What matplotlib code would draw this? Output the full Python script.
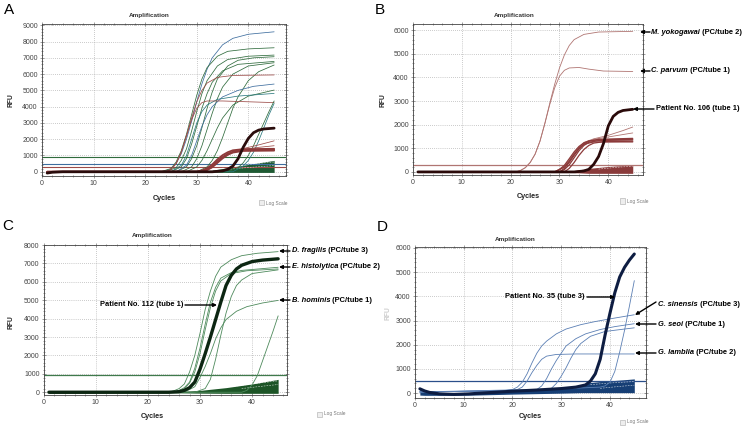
import matplotlib.pyplot as plt
from matplotlib.patches import FancyArrowPatch, Rectangle
from matplotlib.ticker import MultipleLocator

plt.rcParams['font.family'] = ['Liberation Sans', 'DejaVu Sans']

W, H = 745, 429

# ---------------- panel A : all runs overlaid ----------------
A_GREEN, A_BLUE, A_TEAL, A_RED = '#2f6b3c', '#3d6d9e', '#2b7a80', '#9c4a47'
A_CURVES = [
    (A_BLUE, [(1, 0), (23, 0), (25, 150), (26, 500), (27, 1100), (28, 2000), (29, 3100), (30, 4300),
              (31, 5400), (32, 6300), (33, 7000), (35, 7800), (37, 8200), (40, 8450), (45, 8600)]),
    (A_GREEN, [(1, 0), (23, 0), (25, 200), (26, 600), (27, 1300), (28, 2300), (29, 3500), (30, 4700),
               (31, 5700), (32, 6400), (34, 7100), (36, 7400), (40, 7550), (45, 7620)]),
    (A_GREEN, [(1, 0), (24, 0), (26, 250), (27, 700), (28, 1400), (29, 2500), (30, 3700), (31, 4800),
               (32, 5600), (34, 6500), (36, 6900), (40, 7100), (45, 7170)]),
    (A_GREEN, [(1, 0), (26, 0), (28, 300), (29, 800), (30, 1600), (31, 2700), (32, 3900), (33, 4900),
               (34, 5700), (36, 6500), (38, 6850), (41, 7000), (45, 7070)]),
    (A_GREEN, [(1, 0), (25, 0), (27, 300), (28, 800), (29, 1700), (30, 2800), (31, 3900), (32, 4800),
               (33, 5500), (35, 6200), (38, 6600), (45, 6780)]),
    (A_GREEN, [(1, 0), (27, 0), (29, 300), (30, 800), (31, 1600), (32, 2600), (33, 3600), (34, 4500),
               (35, 5200), (37, 6000), (40, 6500), (45, 6700)]),
    (A_GREEN, [(1, 0), (30, 0), (32, 300), (33, 700), (34, 1300), (35, 2100), (36, 3000), (37, 3900),
               (38, 4600), (40, 5600), (42, 6150), (45, 6560)]),
    (A_BLUE, [(1, 0), (26, 0), (28, 400), (29, 1000), (30, 1900), (31, 2800), (32, 3500), (33, 4000),
              (35, 4600), (38, 5000), (41, 5250), (45, 5390)]),
    (A_GREEN, [(1, 0), (28, 0), (30, 300), (31, 700), (32, 1300), (33, 2000), (34, 2700), (35, 3300),
               (37, 4100), (40, 4650), (45, 5020)]),
    (A_TEAL, [(1, 0), (25, 0), (27, 400), (28, 1000), (29, 2000), (30, 3000), (31, 3700), (32, 4100),
              (34, 4450), (38, 4650), (45, 4815)]),
    (A_RED, [(1, 0), (24, 0), (25, 150), (26, 500), (27, 1200), (28, 2200), (29, 3300), (30, 4300),
             (31, 5000), (32, 5450), (34, 5800), (37, 5920), (45, 5950)]),
    (A_RED, [(1, 0), (24, 0), (25, 150), (26, 500), (27, 1200), (28, 2200), (29, 3200), (30, 3900),
             (31, 4250), (32, 4350), (35, 4350), (45, 4250)]),
    (A_GREEN, [(1, 0), (36, 0), (38, 250), (39, 550), (40, 1000), (41, 1600), (42, 2300), (43, 3000),
               (44, 3700), (45, 4350)]),
    (A_TEAL, [(1, 0), (37, 0), (39, 350), (40, 700), (41, 1200), (42, 1900), (43, 2700), (44, 3500),
              (45, 4200)]),
    (A_RED, [(1, 0), (31, 0), (33, 300), (34, 600), (35, 900), (36, 1100), (38, 1350), (40, 1500),
             (42, 1650), (45, 1900)]),
    (A_RED, [(1, 0), (31, 0), (33, 250), (34, 550), (35, 850), (36, 1050), (38, 1300), (40, 1420),
             (42, 1500), (45, 1600)]),
]
A_THICK = [
    [(1, 0), (30, 0), (31, 50), (32, 150), (33, 350), (34, 650), (35, 900), (36, 1100), (37, 1230),
     (39, 1320), (45, 1350)],
    [(1, 0), (31, 0), (32, 100), (33, 280), (34, 550), (35, 820), (36, 1040), (37, 1180), (39, 1280),
     (45, 1300)],
    [(1, 0), (30, 0), (31, 80), (32, 220), (33, 450), (34, 760), (35, 1020), (36, 1200), (37, 1320),
     (39, 1390), (45, 1410)],
]
A_PATIENT = [(1, -80), (2, -30), (4, 0), (33, 0), (35, 50), (36, 150), (37, 350), (38, 800),
             (39, 1500), (40, 2050), (41, 2400), (42, 2560), (43, 2630), (45, 2680)]
A_THRESH = [(880, '#2f6b3c'), (500, '#3d6d9e'), (310, '#9c4a47')]
A_BAND_X = [33, 36, 40, 45]
A_BAND_LO = [-30, -40, -40, -40]
A_BAND_HI = [100, 250, 450, 700]
A_DASH = [[(35, 300), (39, 420), (42, 520), (45, 600)], [(36, 150), (40, 260), (45, 380)]]

# ---------------- panel B : tube 1/2 ----------------
B_LINE, B_BAND, B_BLACK = '#b07572', '#8c3a3a', '#2a0a0a'
B_CURVES = [
    [(1, 0), (21, 0), (22, 60), (23, 180), (24, 400), (25, 750), (26, 1300), (27, 2050), (28, 2900),
     (29, 3700), (30, 4400), (31, 4950), (32, 5350), (33, 5600), (35, 5820), (38, 5920), (45, 5950)],
    [(1, 0), (21, 0), (22, 60), (23, 180), (24, 400), (25, 750), (26, 1300), (27, 2050), (28, 2850),
     (29, 3550), (30, 4050), (31, 4300), (32, 4400), (34, 4420), (36, 4350), (39, 4270), (45, 4250)],
    [(1, 0), (29, 0), (31, 250), (32, 500), (33, 800), (34, 1050), (35, 1250), (37, 1400), (40, 1550),
     (43, 1750), (45, 1900)],
    [(1, 0), (29, 0), (31, 220), (32, 480), (33, 780), (34, 1020), (35, 1200), (37, 1380), (40, 1480),
     (45, 1650)],
]
B_THICK = [
    [(1, 0), (29, 0), (30, 100), (31, 280), (32, 560), (33, 850), (34, 1080), (35, 1230), (36, 1310),
     (38, 1360), (45, 1380)],
    [(1, 0), (30, 0), (31, 100), (32, 300), (33, 600), (34, 900), (35, 1120), (36, 1250), (38, 1330),
     (45, 1350)],
    [(1, 0), (30, 0), (31, 150), (32, 400), (33, 700), (34, 980), (35, 1180), (36, 1300), (38, 1380),
     (45, 1420)],
    [(1, 0), (31, 0), (32, 150), (33, 400), (34, 700), (35, 950), (36, 1120), (37, 1220), (39, 1280),
     (45, 1300)],
    [(1, 0), (29, 0), (31, 200), (32, 450), (33, 750), (34, 1000), (35, 1170), (37, 1270), (45, 1270)],
]
B_PATIENT = [(1, 0), (33, 0), (35, 40), (36, 110), (37, 320), (38, 650), (39, 1200), (40, 1950),
             (41, 2350), (42, 2520), (43, 2600), (45, 2650)]
B_THRESH = [(310, '#b07572')]
B_BAND_X = [33, 36, 40, 45]
B_BAND_LO = [-30, -60, -60, -60]
B_BAND_HI = [60, 150, 230, 300]
B_DASH = [[(38, 120), (42, 200), (45, 240)]]

# ---------------- panel C : tube 3 ----------------
C_LINE, C_BAND, C_BLACK = '#4e8a5c', '#1d5527', '#0c2612'
C_CURVES = [
    [(1, 0), (24, 0), (25, 80), (26, 200), (27, 450), (28, 1100), (29, 2000), (30, 3200), (31, 4500),
     (32, 5500), (33, 6300), (34, 6800), (36, 7200), (38, 7420), (41, 7550), (45, 7640)],
    [(1, 0), (25, 0), (26, 100), (27, 250), (28, 550), (29, 1300), (30, 2400), (31, 3700), (32, 4900),
     (33, 5700), (34, 6200), (36, 6500), (38, 6620), (45, 6790)],
    [(1, 0), (25, 0), (27, 200), (28, 500), (29, 1100), (30, 2100), (31, 3400), (32, 4600), (33, 5500),
     (34, 6050), (36, 6450), (39, 6600), (45, 6700)],
    [(1, 0), (29, 0), (31, 200), (32, 700), (33, 1800), (34, 3100), (35, 4300), (36, 5200), (37, 5800),
     (38, 6100), (40, 6450), (45, 6650)],
    [(1, 0), (27, 0), (29, 300), (30, 800), (31, 1400), (32, 2100), (33, 2900), (34, 3500), (35, 3950),
     (37, 4400), (39, 4650), (42, 4850), (45, 4990)],
    [(1, 0), (38, 0), (39, 100), (40, 400), (41, 900), (42, 1700), (43, 2500), (44, 3300), (45, 4150)],
]
C_PATIENT = [(1, 0), (24, 0), (26, 30), (27, 100), (28, 250), (29, 550), (30, 1250), (31, 2100),
             (32, 3000), (33, 3950), (34, 4900), (35, 5800), (36, 6350), (37, 6700), (38, 6900),
             (40, 7100), (42, 7180), (45, 7250)]
C_THRESH = [(920, '#3f7a4c')]
C_BAND_X = [1, 25, 30, 35, 40, 45]
C_BAND_LO = [-60, -30, -50, -60, -60, -60]
C_BAND_HI = [60, 30, 100, 250, 450, 700]
C_DASH = [[(36, 300), (40, 450), (45, 620)], [(38, 200), (42, 330), (45, 420)]]

# ---------------- panel D : tube 1/2/3 ----------------
D_LINE, D_BAND, D_BLACK = '#5b7fb4', '#173f75', '#0e1d42'
D_CURVES = [
    [(1, 50), (18, 100), (20, 150), (21, 250), (22, 450), (23, 800), (24, 1250), (25, 1650), (26, 1950),
     (27, 2150), (29, 2450), (31, 2650), (34, 2830), (37, 2960), (40, 3070), (45, 3240)],
    [(1, 50), (18, 100), (21, 150), (22, 250), (23, 500), (24, 850), (25, 1150), (26, 1400), (27, 1530),
     (29, 1600), (33, 1620), (45, 1620)],
    [(1, 50), (22, 100), (25, 150), (26, 300), (27, 600), (28, 1000), (29, 1350), (30, 1650), (31, 1950),
     (33, 2250), (35, 2450), (38, 2630), (41, 2750), (45, 2870)],
    [(1, 50), (26, 120), (28, 200), (29, 400), (30, 700), (31, 1050), (32, 1450), (33, 1800), (34, 2050),
     (36, 2350), (39, 2550), (45, 2700)],
    [(1, 50), (30, 180), (38, 250), (39, 300), (40, 450), (41, 900), (42, 1700), (43, 2600), (44, 3600),
     (45, 4650)],
]
D_PATIENT = [(1, 180), (2, 90), (3, 30), (5, -30), (8, -50), (11, -30), (15, 20), (20, 80), (25, 130),
             (30, 190), (33, 250), (35, 340), (36, 500), (37, 800), (38, 1400), (39, 2400), (40, 3300),
             (41, 4150), (42, 4800), (43, 5200), (44, 5500), (45, 5750)]
D_THRESH = [(520, '#2b4f8a')]
D_BAND_X = [1, 2, 4, 8, 12, 16, 20, 25, 30, 34, 35, 38, 42, 45]
D_BAND_LO = [-80, -90, -90, -90, -80, -60, -40, -20, 0, 20, 20, 20, 20, 20]
D_BAND_HI = [220, 120, 40, 0, 20, 60, 110, 160, 220, 300, 420, 480, 540, 590]
D_DASH = [[(36, 350), (40, 420), (45, 480)], [(38, 200), (42, 280), (45, 330)]]

fig = plt.figure(figsize=(W / 100, H / 100), dpi=100)


def fx(x):
    return x / W


def fy(y):
    return 1 - y / H


def panel(box, xmax, ylim):
    l, t, r, b = box
    ax = fig.add_axes([l / W, 1 - b / H, (r - l) / W, (b - t) / H])
    ax.set_xlim(0, xmax)
    ax.set_ylim(*ylim)
    ax.xaxis.set_major_locator(MultipleLocator(10))
    ax.xaxis.set_minor_locator(MultipleLocator(2))
    ax.yaxis.set_major_locator(MultipleLocator(1000))
    ax.yaxis.set_minor_locator(MultipleLocator(200))
    ax.set_axisbelow(True)
    ax.grid(True, which='major', ls=(0, (1, 2)), lw=0.5, color='#9a9a9a')
    ax.tick_params(which='both', direction='inout', top=True, right=True, width=0.4,
                   color='#555555', labelcolor='#444444', labelsize=5, pad=1.5)
    ax.tick_params(which='major', length=3)
    ax.tick_params(which='minor', length=1.8)
    for s in ax.spines.values():
        s.set_linewidth(0.6)
        s.set_color('#444444')
    return ax


def curve(ax, pts, colour, lw):
    ax.plot([p[0] for p in pts], [p[1] for p in pts], color=colour, lw=lw,
            solid_joinstyle='round', solid_capstyle='round')


def band(ax, xs, lo, hi, colour, dashes):
    ax.fill_between(xs, lo, hi, color=colour, lw=0)
    for d in dashes:
        ax.plot([p[0] for p in d], [p[1] for p in d], color='white', lw=0.4, ls=(0, (3, 2)), alpha=0.8)


def frame_texts(title_xy, cycles_xy, rfu_xy, log_xy, letter, letter_xy, rfu_colour='#222222'):
    fig.text(fx(title_xy[0]), fy(title_xy[1]), 'Amplification', fontsize=4.6, fontweight='bold',
             ha='center', va='center', color='#333333')
    fig.text(fx(cycles_xy[0]), fy(cycles_xy[1]), 'Cycles', fontsize=5.2, fontweight='bold',
             ha='center', va='center', color='#222222')
    fig.text(fx(rfu_xy[0]), fy(rfu_xy[1]), 'RFU', fontsize=4.8, fontweight='bold', rotation=90,
             ha='center', va='center', color=rfu_colour)
    fig.add_artist(Rectangle((fx(log_xy[0]), fy(log_xy[1] + 2.5)), 5 / W, 5 / H,
                             transform=fig.transFigure, facecolor='#eeeeee', edgecolor='#aaaaaa', lw=0.4))
    fig.text(fx(log_xy[0] + 7), fy(log_xy[1]), 'Log Scale', fontsize=3.4, color='#777777',
             ha='left', va='center')
    fig.text(fx(letter_xy[0]), fy(letter_xy[1]), letter, fontsize=11, ha='center', va='center')


def arrow(start, end):
    fig.add_artist(FancyArrowPatch((fx(start[0]), fy(start[1])), (fx(end[0]), fy(end[1])),
                                   transform=fig.transFigure, arrowstyle='-|>', mutation_scale=5,
                                   lw=1.0, color='black', shrinkA=0, shrinkB=0))


NOTE = dict(fontsize=5.4, fontweight='bold', va='center', ha='left', color='black')


def species(ax, x, y, name, rest):
    t = fig.text(fx(x), fy(y), name, fontstyle='italic', **NOTE)
    ax.annotate(rest, xy=(1, 0.5), xycoords=t, annotation_clip=False, **NOTE)


# ---- A ----
ax = panel((42, 24, 286, 176), 47.3, (-260, 9080))
for v, c in A_THRESH:
    ax.axhline(v, color=c, lw=0.8)
band(ax, A_BAND_X, A_BAND_LO, A_BAND_HI, '#1f5a33', A_DASH)
for c, pts in A_CURVES:
    curve(ax, pts, c, 0.55)
for pts in A_THICK:
    curve(ax, pts, '#8e3a3a', 1.3)
curve(ax, A_PATIENT, '#2a0c0c', 2.0)
frame_texts((149, 16), (164, 198), (11, 100), (259, 203), 'A', (9, 10))

# ---- B ----
ax = panel((413, 24, 643, 175), 47.1, (-130, 6260))
for v, c in B_THRESH:
    ax.axhline(v, color=c, lw=0.9)
band(ax, B_BAND_X, B_BAND_LO, B_BAND_HI, '#8a3b3b', B_DASH)
for pts in B_CURVES:
    curve(ax, pts, B_LINE, 0.6)
for pts in B_THICK:
    curve(ax, pts, B_BAND, 0.9)
curve(ax, B_PATIENT, B_BLACK, 2.0)
frame_texts((514, 16), (528, 197), (383, 100), (620, 201), 'B', (380, 10))
arrow((650, 32), (640, 32))
species(ax, 651, 32, 'M. yokogawai', ' (PC/tube 2)')
arrow((650, 71), (640, 71))
species(ax, 651, 71, 'C. parvum', ' (PC/tube 1)')
arrow((654, 109), (633, 109))
fig.text(fx(656), fy(109), 'Patient No. 106 (tube 1)', **NOTE)

# ---- C ----
ax = panel((43.7, 245, 287, 395), 46.7, (-150, 8000))
for v, c in C_THRESH:
    ax.axhline(v, color=c, lw=0.9)
band(ax, C_BAND_X, C_BAND_LO, C_BAND_HI, C_BAND, C_DASH)
for pts in C_CURVES:
    curve(ax, pts, C_LINE, 0.6)
curve(ax, C_PATIENT, C_BLACK, 2.4)
frame_texts((152, 235), (152, 417), (11, 322), (317, 414), 'C', (8, 226))
arrow((290, 251), (279, 251))
species(ax, 292, 251, 'D. fragilis', ' (PC/tube 3)')
arrow((290, 267), (279, 267))
species(ax, 292, 267, 'E. histolytica', ' (PC/tube 2)')
arrow((290, 300), (279, 300))
species(ax, 292, 300, 'B. hominis', ' (PC/tube 1)')
fig.text(fx(183), fy(305), 'Patient No. 112 (tube 1)', **dict(NOTE, ha='right'))
arrow((185, 305), (217, 305))

# ---- D ----
ax = panel((415, 247, 646, 398), 47.4, (-200, 6040))
for v, c in D_THRESH:
    ax.axhline(v, color=c, lw=0.9)
band(ax, D_BAND_X, D_BAND_LO, D_BAND_HI, D_BAND, D_DASH)
for pts in D_CURVES:
    curve(ax, pts, D_LINE, 0.6)
curve(ax, D_PATIENT, D_BLACK, 2.2)
frame_texts((515, 239), (530, 417), (388, 313), (620, 422), 'D', (382, 227), rfu_colour='#cccccc')
fig.text(fx(585), fy(297), 'Patient No. 35 (tube 3)', **dict(NOTE, ha='right'))
arrow((587, 297), (615, 297))
arrow((656, 302), (635, 315))
species(ax, 658, 304, 'C. sinensis', ' (PC/tube 3)')
arrow((656, 324), (635, 324))
species(ax, 658, 324, 'G. seoi', ' (PC/tube 1)')
arrow((656, 353), (635, 353))
species(ax, 658, 353, 'G. lamblia', ' (PC/tube 2)')

fig.savefig('out.png', dpi=100)
